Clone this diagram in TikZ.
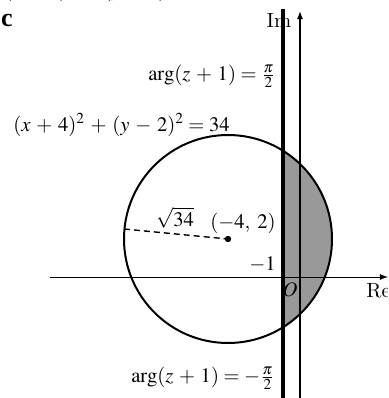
\documentclass[tikz,border=0pt]{standalone}
\usepackage{mathptmx}
\usepackage{fontspec}
\newfontfamily\cfont{Liberation Serif}
\usetikzlibrary{arrows.meta}
\medmuskip=5mu plus 2mu minus 4mu\relax
\begin{document}
\begin{tikzpicture}[x=0.5pt,y=-0.5pt,
  lbl/.style={inner sep=0pt,font=\fontsize{10.3}{12}\selectfont},
  axis/.style={line width=0.5pt,-{Latex[length=4pt,width=3pt]}},
  bound/.style={line width=1.6pt},
  circ/.style={line width=1pt},
  radius line/.style={dashed,line width=0.7pt,dash pattern=on 3pt off 2pt}]
\useasboundingbox (0,0) rectangle (388,398);
\clip (0,0) rectangle (388,398);
% shaded region
\begin{scope}
  \clip (283,0) rectangle (400,400);
  \fill[black!40] (228,239) circle [radius=52pt];
\end{scope}
% coordinates
\coordinate (C) at (228,239);
\coordinate (E) at (124,229);
\coordinate (reL) at (50,277);
\coordinate (reR) at (388,277);
\coordinate (imB) at (300,400);
\coordinate (imT) at (300,11);
\coordinate (bB) at (283,400);
\coordinate (bT) at (283,9);
% circle
\draw[circ] (C) circle [radius=52pt];
% axes
\draw[axis] (reL) -- (reR);
\draw[axis,line width=0.7pt] (imB) -- (imT);
% boundary line x=-1
\draw[bound] (bB) -- (bT);
% radius
\draw[radius line] (E) -- (C);
\fill (C) circle [radius=1.6pt];
% labels
\node[lbl,anchor=base west] (top) at (4,-4) {$(x+4)^2+(y-2)^2=34$};
\node[inner sep=0pt,anchor=center] (c) at (7,20) {\cfont\bfseries\fontsize{13}{15}\selectfont c};
\node[lbl,anchor=center] (im) at (279,20) {Im};
\node[lbl,anchor=east] (argp) at (276,76) {$\arg(z+1)=\frac{\pi}{2}$};
\node[lbl,anchor=west] (eq) at (13,125) {$(x+4)^2+(y-2)^2=34$};
\node[lbl,anchor=center] (r) at (175,218) {$\sqrt{34}$};
\node[lbl,anchor=west] (cen) at (210,223) {$(-4,\;2)$};
\node[lbl,anchor=east] (m1) at (276,264) {$-1$};
\node[lbl,anchor=center] (o) at (290,290) {$O$};
\node[lbl,anchor=west] (re) at (366,291) {Re};
\node[lbl,anchor=east] (argm) at (275,378) {$\arg(z+1)=-\frac{\pi}{2}$};
\end{tikzpicture}
\end{document}
